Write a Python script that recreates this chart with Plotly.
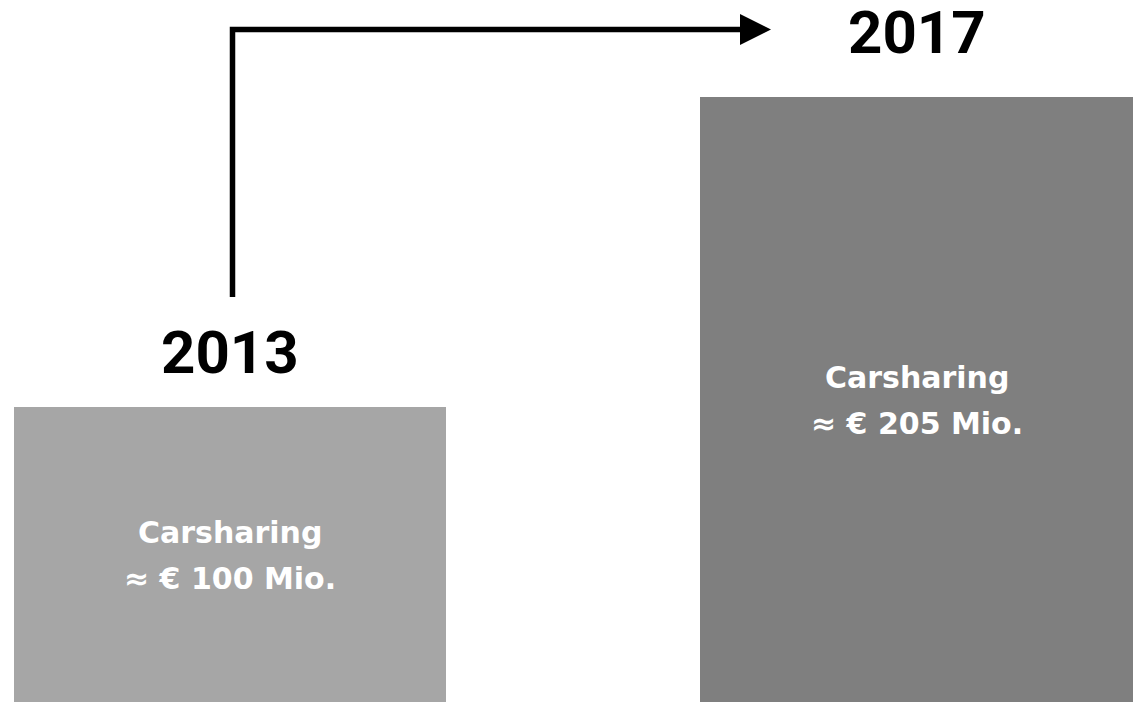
import plotly.graph_objects as go

# Data
years = ["2013", "2017"]
values = [100, 205]
line1 = ["Carsharing", "Carsharing"]
line2 = ["≈ € 100 Mio.", "≈ € 205 Mio."]
colors = ["#a6a6a6", "#7f7f7f"]

W, H = 1133, 702
xpos = list(range(len(years)))
x0, x1 = -0.335, 1.315
ymax = 238.0

def px_x(px):
    return x0 + px / W * (x1 - x0)

def px_y(py):
    return (H - py) / H * ymax

FONT = "Roboto"
INNER_FONT = "DejaVu Sans"

fig = go.Figure()
fig.add_trace(go.Bar(
    x=xpos, y=values, width=0.63,
    marker=dict(color=colors, line=dict(width=0)),
    hoverinfo="skip",
))

annotations = []
year_shift = [55, 65]
for i, (yr, v) in enumerate(zip(years, values)):
    annotations.append(dict(
        x=xpos[i], y=v, xref="x", yref="y", text=f"<b>{yr}</b>",
        showarrow=False, yshift=year_shift[i], yanchor="middle",
        font=dict(family=FONT, size=60, color="#000000"),
    ))
    annotations.append(dict(
        x=xpos[i], y=v / 2, xref="x", yref="y", text=f"<b>{line1[i]}</b>",
        showarrow=False, yshift=22, yanchor="middle",
        font=dict(family=INNER_FONT, size=30, color="#ffffff"),
    ))
    annotations.append(dict(
        x=xpos[i], y=v / 2, xref="x", yref="y", text=f"<b>{line2[i]}</b>",
        showarrow=False, yshift=-24, yanchor="middle",
        font=dict(family=INNER_FONT, size=30, color="#ffffff"),
    ))

shapes = [
    dict(type="path", xref="x", yref="y",
         path=f"M {px_x(232.5)},{px_y(297)} L {px_x(232.5)},{px_y(29.5)} L {px_x(745)},{px_y(29.5)}",
         line=dict(color="#000000", width=5.5), fillcolor="rgba(0,0,0,0)"),
    dict(type="path", xref="x", yref="y",
         path=f"M {px_x(740)},{px_y(14)} L {px_x(771)},{px_y(29.5)} L {px_x(740)},{px_y(45)} Z",
         line=dict(color="#000000", width=0), fillcolor="#000000"),
]

fig.update_layout(
    width=W, height=H,
    margin=dict(l=0, r=0, t=0, b=0),
    paper_bgcolor="#ffffff", plot_bgcolor="#ffffff",
    xaxis=dict(range=[x0, x1], visible=False, fixedrange=True),
    yaxis=dict(range=[0, ymax], visible=False, fixedrange=True),
    showlegend=False,
    annotations=annotations,
    shapes=shapes,
    bargap=0,
)

fig.write_html(
    "out.html",
    config={"displayModeBar": False},
    post_script="document.body.style.margin='0';document.body.style.overflow='hidden';",
)
